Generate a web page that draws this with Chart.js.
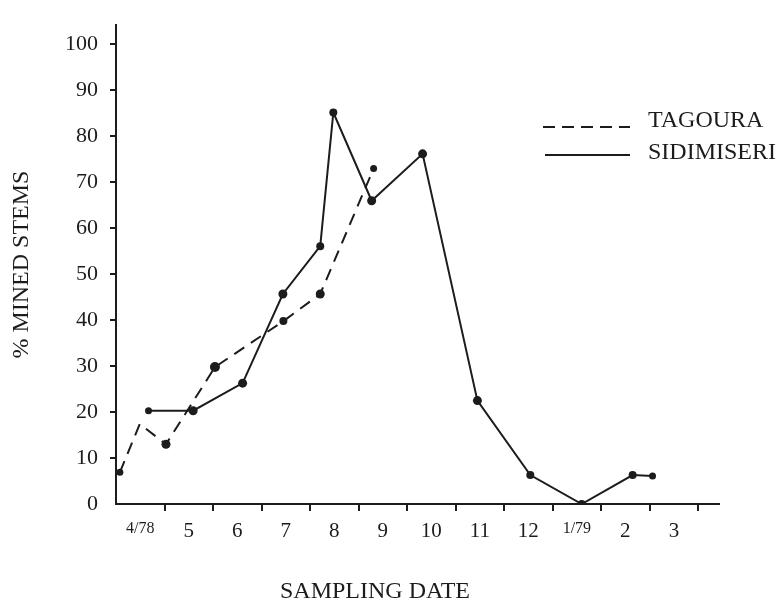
<!DOCTYPE html>
<html>
<head>
<meta charset="utf-8">
<script src="https://cdn.jsdelivr.net/npm/chart.js@4.4.0/dist/chart.umd.min.js"></script>
<style>
  html, body { margin: 0; padding: 0; background: #fff; }
  #wrap { width: 782px; height: 605px; }
</style>
</head>
<body>
<div id="wrap"><canvas id="myChart"></canvas></div>
<script>
// x = months since the start of 4/78 (tick marks sit on month boundaries)
const monthLabels = ['4/78', '5', '6', '7', '8', '9', '10', '11', '12', '1/79', '2', '3'];
const yTicks = [0, 10, 20, 30, 40, 50, 60, 70, 80, 90, 100];

const tagouraX = [0.08, 0.49, 1.03, 2.04, 3.45, 4.21, 5.31];
const tagouraY = [6.9, 17.4, 13.0, 29.8, 39.8, 45.7, 73.0];

const sidiX = [0.67, 1.59, 2.61, 3.44, 4.21, 4.48, 5.27, 6.32, 7.45, 8.54, 9.60, 10.65, 11.06];
const sidiY = [20.3, 20.3, 26.3, 45.7, 56.1, 85.2, 66.0, 76.2, 22.5, 6.3, 0, 6.3, 6.1];

const ink = '#1c1c1c';
const serif = '"Liberation Serif", "DejaVu Serif", serif';

const toPoints = (xs, ys) => xs.map((x, i) => ({ x: x, y: ys[i] }));

// axis title + legend drawn by hand so they sit where the original has them
const extraText = {
  id: 'extraText',
  afterDraw(chart) {
    const ctx = chart.ctx;
    ctx.save();
    ctx.fillStyle = ink;
    ctx.strokeStyle = ink;
    ctx.font = '24px ' + serif;
    ctx.textBaseline = 'middle';
    ctx.textAlign = 'center';
    ctx.fillText('SAMPLING DATE', 375, 592);

    ctx.textAlign = 'left';
    ctx.lineWidth = 2;
    ctx.setLineDash([12, 7]);
    ctx.beginPath();
    ctx.moveTo(543, 127);
    ctx.lineTo(630, 127);
    ctx.stroke();
    ctx.setLineDash([]);
    ctx.beginPath();
    ctx.moveTo(545, 155);
    ctx.lineTo(630, 155);
    ctx.stroke();
    ctx.fillText('TAGOURA', 648, 121);
    ctx.fillText('SIDIMISERI', 648, 153);
    ctx.restore();
  }
};

const ctx = document.getElementById('myChart');

new Chart(ctx, {
  type: 'line',
  data: {
    datasets: [
      {
        label: 'TAGOURA',
        data: toPoints(tagouraX, tagouraY),
        borderColor: ink,
        backgroundColor: ink,
        borderWidth: 2,
        borderDash: [12, 8],
        pointRadius: [3.5, 0, 4.5, 5, 4, 4.5, 3.5],
        pointBackgroundColor: ink,
        pointBorderWidth: 0,
        tension: 0
      },
      {
        label: 'SIDIMISERI',
        data: toPoints(sidiX, sidiY),
        borderColor: ink,
        backgroundColor: ink,
        borderWidth: 2,
        pointRadius: [3.5, 4.5, 4.5, 4.5, 4, 4, 4.5, 4.5, 4.5, 4, 4, 4, 3.5],
        pointBackgroundColor: ink,
        pointBorderWidth: 0,
        tension: 0
      }
    ]
  },
  options: {
    responsive: true,
    maintainAspectRatio: false,
    animation: false,
    layout: {
      padding: { top: 12, right: 63, bottom: 0, left: 0 }
    },
    plugins: {
      legend: { display: false },
      tooltip: { enabled: false }
    },
    scales: {
      x: {
        type: 'linear',
        min: 0,
        max: 12.43,
        afterBuildTicks: scale => {
          scale.ticks = monthLabels.map((l, i) => ({ value: i + 0.5 }));
        },
        afterFit: scale => { scale.height = 101; },
        border: { display: true, color: ink, width: 2 },
        grid: {
          offset: true,
          drawOnChartArea: false,
          drawTicks: true,
          tickLength: 7,
          lineWidth: 2,
          color: c => (c.index === 0 ? 'rgba(0,0,0,0)' : ink)
        },
        ticks: {
          autoSkip: false,
          maxRotation: 0,
          padding: 8,
          color: ink,
          font: c => {
            const lab = monthLabels[c.index] || '';
            return { family: serif, size: lab.indexOf('/') >= 0 ? 16 : 21 };
          },
          callback: (v, i) => monthLabels[i]
        }
      },
      y: {
        type: 'linear',
        min: 0,
        max: 104.2,
        afterBuildTicks: scale => {
          scale.ticks = yTicks.map(v => ({ value: v }));
        },
        afterFit: scale => { scale.width = 116; },
        border: { display: true, color: ink, width: 2 },
        grid: {
          drawOnChartArea: false,
          drawTicks: true,
          tickLength: 6,
          lineWidth: 2,
          color: c => (c.index === 0 ? 'rgba(0,0,0,0)' : ink)
        },
        ticks: {
          padding: 12,
          color: ink,
          font: { family: serif, size: 22 }
        },
        title: {
          display: true,
          text: '% MINED STEMS',
          color: ink,
          font: { family: serif, size: 24 },
          padding: { top: 7, bottom: 0 }
        }
      }
    }
  },
  plugins: [extraText]
});
</script>
</body>
</html>
